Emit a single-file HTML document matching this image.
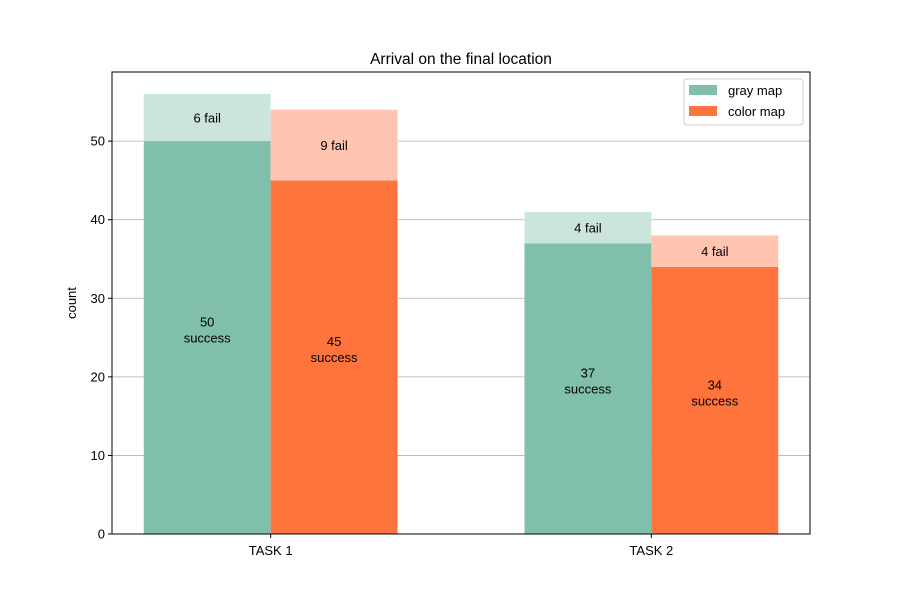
<!DOCTYPE html>
<html><head><meta charset="utf-8"><style>
body{margin:0;background:#fff;font-family:"Liberation Sans",sans-serif}
svg text{font-family:"Liberation Sans",sans-serif;fill:#000}
</style></head><body>
<svg id="chart" width="900" height="600" xmlns="http://www.w3.org/2000/svg"></svg>
<script>
const categories=["TASK 1","TASK 2"];
const graySuccess=[50,37];
const grayFail=[6,4];
const colorSuccess=[45,34];
const colorFail=[9,4];
const yTicks=[0,10,20,30,40,50];
const L=112,R=810,T=72,B=534,yMax=58.8,xMin=-0.4167,xMax=1.4167,bw=0.3333;
const sx=v=>L+(v-xMin)/(xMax-xMin)*(R-L);
const sy=v=>B-v/yMax*(B-T);
const svg=document.getElementById('chart');
const NS="http://www.w3.org/2000/svg";
function mk(tag,attrs,parent){const e=document.createElementNS(NS,tag);for(const k in attrs)e.setAttribute(k,attrs[k]);(parent||svg).appendChild(e);return e;}
function txt(x,y,s,attrs){const e=mk('text',Object.assign({x:x,y:y,'font-size':13,'text-anchor':'middle'},attrs||{}));e.textContent=s;return e;}
yTicks.forEach(t=>{if(t>0){const g=mk('line',{x1:L,x2:R,y1:sy(t),y2:sy(t),stroke:'#b0b0b0','stroke-width':0.8});

}});
function bars(succ,fail,off,cs,cf,name){
 categories.forEach((c,i)=>{
  const x0=sx(i+off-bw/2),w=sx(i+off+bw/2)-x0;
  const r1=mk('rect',{x:x0,y:sy(succ[i]),width:w,height:sy(0)-sy(succ[i]),fill:cs});
  
  
  const r2=mk('rect',{x:x0,y:sy(succ[i]+fail[i]),width:w,height:sy(succ[i])-sy(succ[i]+fail[i]),fill:cf});
  
  
  const cx=x0+w/2,my=sy(succ[i]/2);
  txt(cx,my-11,String(succ[i]));txt(cx,my+5,'success');
  txt(cx,sy(succ[i]+fail[i]/2)+5,fail[i]+' fail');
 });
}
bars(graySuccess,grayFail,-bw/2,'#7fbfab','#cce5dc','gray-map');
bars(colorSuccess,colorFail,bw/2,'#ff743d','#ffc5b1','color-map');
const fr=mk('rect',{x:L,y:T,width:R-L,height:B-T,fill:'none',stroke:'#000','stroke-width':1});


yTicks.forEach(t=>{mk('line',{x1:L-4,x2:L,y1:sy(t),y2:sy(t),stroke:'#000'});txt(L-7,sy(t)+4.5,String(t),{'text-anchor':'end'});});
categories.forEach((c,i)=>{mk('line',{x1:sx(i),x2:sx(i),y1:B,y2:B+4,stroke:'#000'});txt(sx(i),B+21,c);});
const yl=txt(0,0,'count',{transform:'translate(76,303) rotate(-90)'});


const ti=txt(461,64,'Arrival on the final location',{'font-size':15.5});


const lg=mk('g',{});


mk('rect',{x:684,y:79,width:119,height:46,rx:3,fill:'#fff',stroke:'#ccc','fill-opacity':0.8},lg);
mk('rect',{x:689,y:85,width:28,height:10,fill:'#7fbfab'},lg);
mk('rect',{x:689,y:106,width:28,height:10,fill:'#ff743d'},lg);
const t1=txt(728,95,'gray map',{'text-anchor':'start'});lg.appendChild(t1);
const t2=txt(728,116,'color map',{'text-anchor':'start'});lg.appendChild(t2);
</script>
</body></html>
